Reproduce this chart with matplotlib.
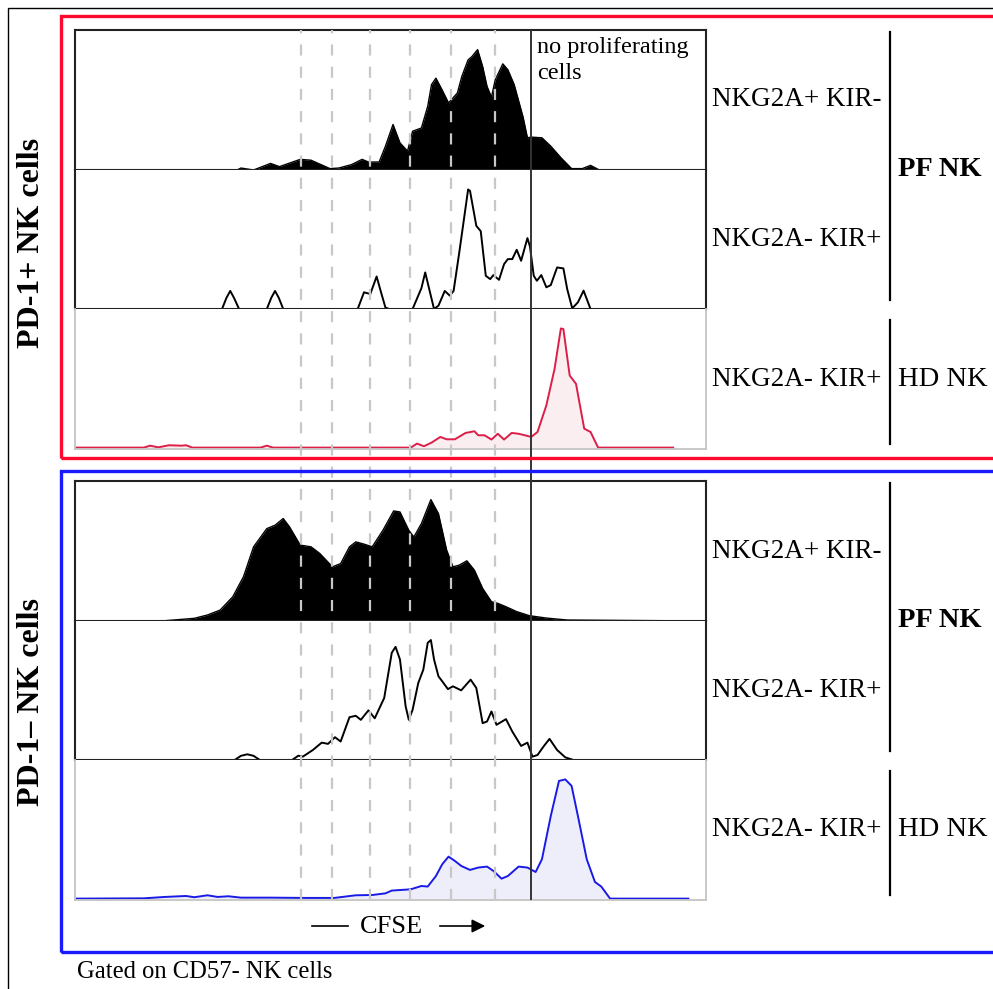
import numpy as np
import matplotlib.pyplot as plt
from matplotlib.lines import Line2D
from matplotlib.patches import Rectangle, FancyArrowPatch

plt.rcParams["font.family"] = ["Liberation Serif", "DejaVu Serif"]

# CFSE channel (0-1000 across the plot window) and normalized count (% of panel height)
# PD-1+ NK cells
pos_a_cfse = [0, 257, 263, 283, 310, 324, 357, 374, 404, 418, 438, 455, 465, 482, 492, 504, 515, 527, 535, 549,
              559, 565, 572, 582, 592, 606, 613, 623, 629, 638, 646, 653, 660, 666, 678, 686, 696, 710, 717, 723,
              740, 754, 770, 787, 804, 817, 831, 1000]
pos_a_count = [0, 0, 1.4, 0, 4.7, 2.4, 7.6, 7.0, 1.0, 1.4, 3.8, 7.6, 5.7, 5.7, 17, 32.5, 19.4, 13.5, 27.7, 30,
               45.5, 61, 65.6, 57, 47.9, 55, 66.8, 78.7, 81, 86, 74, 59.7, 52, 64.5, 75.8, 71.6, 61, 38, 23, 23.5,
               23, 17, 8.8, 1, 1, 3.3, 0, 0]

pos_b_cfse = [0, 233, 240, 246, 252, 260, 304, 311, 317, 323, 330, 448, 458, 468, 478, 485, 492, 498, 535, 549,
              555, 561, 569, 576, 586, 594, 600, 609, 623, 626, 636, 643, 651, 658, 663, 672, 680, 686, 693, 700,
              707, 717, 721, 727, 732, 739, 747, 754, 764, 774, 780, 788, 797, 806, 817, 1000]
pos_b_count = [0, 0, 8, 13, 8, 0, 0, 8, 13, 8, 0, 0, 12, 10.8, 23.4, 12, 1, 0, 0, 15,
               26.3, 15, 0, 2.4, 13, 9.6, 13, 40.7, 86, 85, 59.8, 56, 23.9, 21.5, 24.4, 21, 32.3, 35.9, 35.9, 42.6,
               34.7, 51, 45, 23.9, 20.3, 24.4, 15.6, 17.2, 29.9, 29.2, 14.4, 0.5, 4.8, 13.2, 0, 0]

pos_hd_cfse = [0, 109, 119, 132, 149, 169, 176, 186, 294, 304, 314, 532, 542, 553, 565, 579, 589, 602, 619, 633,
               639, 649, 660, 670, 680, 692, 703, 713, 723, 733, 747, 760, 770, 774, 784, 794, 807, 817, 829, 948]
pos_hd_count = [0, 0, 1.4, 0.2, 1.7, 1.4, 1.7, 0, 0, 1.4, 0, 0, 2.9, 1, 3.6, 7.7, 6, 6, 10.6, 11.8,
                8.9, 8.9, 5.8, 10, 5.8, 10.6, 10, 8.9, 7.7, 11.3, 30.5, 56.8, 86, 85.5, 52, 46, 13.7, 11.3, 0, 0]

# PD-1- NK cells
neg_a_cfse = [0, 142, 189, 210, 230, 250, 267, 283, 304, 317, 330, 340, 357, 374, 388, 408, 421, 435, 445, 458,
              471, 488, 505, 515, 529, 537, 549, 564, 576, 589, 599, 609, 621, 633, 646, 660, 670, 683, 700, 720,
              747, 780, 1000]
neg_a_count = [0, 0.2, 1.9, 4.3, 7.8, 17.3, 31.6, 53, 66, 68.4, 73.2, 67.2, 54.2, 53, 48.2, 38.7, 41, 53, 56.5, 54.9,
               53, 64.8, 78.6, 77.9, 64.8, 60, 69.6, 86.7, 76.7, 50.6, 38.7, 39.9, 43, 36.3, 23.3, 13.8, 12.6, 10.2,
               6.7, 3.8, 2.1, 0.7, 0]

neg_b_cfse = [0, 253, 263, 273, 283, 293, 344, 354, 361, 377, 391, 401, 412, 421, 435, 445, 453, 465, 475, 490,
              502, 508, 515, 524, 529, 535, 544, 552, 559, 564, 569, 576, 582, 591, 599, 612, 627, 636, 646, 653,
              660, 668, 683, 693, 707, 717, 725, 733, 743, 752, 764, 777, 790, 1000]
neg_b_count = [0, 0, 3, 4.1, 3, 0, 0, 3.1, 2.4, 7.2, 12.5, 11.6, 16.4, 13.3, 30.8, 31.8, 28.9, 35.7, 30, 44.6,
               77.1, 81.4, 72.3, 38.6, 28.9, 36.1, 55.4, 65, 84.3, 86.3, 72.3, 60.2, 56.6, 51, 53, 50.1, 57.8, 51.8,
               26.5, 27.7, 34.9, 25.3, 29.4, 20.5, 10.1, 12.5, 2.4, 3.6, 10, 15.2, 7.2, 1.9, 0, 0]

neg_hd_cfse = [0, 109, 142, 176, 189, 210, 226, 243, 263, 310, 364, 411, 445, 471, 492, 502, 532, 549, 559, 572,
               582, 592, 602, 612, 626, 639, 653, 663, 676, 686, 703, 717, 730, 740, 754, 767, 777, 787, 797, 811,
               824, 834, 848, 972]
neg_hd_count = [0, 0.2, 1.2, 1.9, 1, 2.4, 1.2, 1.7, 0.7, 0.7, 0.5, 0.5, 2.4, 2.6, 3.8, 5.8, 6.7, 9.1, 8.7, 16.3,
                24.8, 30.3, 27.2, 23.6, 20.7, 22.4, 23.1, 20, 14.4, 16.3, 23.1, 22.4, 19.2, 28.4, 59.6, 84.9, 86,
                81.3, 59.6, 28.4, 12, 8.7, 0, 0]

division_cfse = [358, 408, 468, 531, 596, 665]
gate_cfse = 722

row_labels = ["NKG2A+ KIR-", "NKG2A- KIR+", "NKG2A- KIR+"]
group_labels = ["PD-1+ NK cells", "PD-1\u2013 NK cells"]


W, H = 993, 989
fig = plt.figure(figsize=(W / 100, H / 100), dpi=100)


def px_box(x0, y0, x1, y1):
    return [x0 / W, 1 - y1 / H, (x1 - x0) / W, (y1 - y0) / H]


def fx(x):
    return x / W


def fy(y):
    return 1 - y / H


# frames
fig.add_artist(Rectangle((fx(8), fy(1010)), fx(1010) - fx(8), fy(8) - fy(1010),
                         transform=fig.transFigure, fill=False, ec="black", lw=1.0))
fig.add_artist(Rectangle((fx(61), fy(458)), fx(1010) - fx(61), fy(16) - fy(458),
                         transform=fig.transFigure, fill=False, ec="#ff0a2e", lw=2.4))
fig.add_artist(Rectangle((fx(61), fy(952)), fx(1010) - fx(61), fy(471) - fy(952),
                         transform=fig.transFigure, fill=False, ec="#1a1aff", lw=2.4))

groups = [
    {"top": 30, "bottoms": [170, 309, 449],
     "series": [(pos_a_cfse, pos_a_count), (pos_b_cfse, pos_b_count), (pos_hd_cfse, pos_hd_count)],
     "hd_line": "#dc1e48", "hd_fill": "#fbeef1"},
    {"top": 481, "bottoms": [621, 760, 900],
     "series": [(neg_a_cfse, neg_a_count), (neg_b_cfse, neg_b_count), (neg_hd_cfse, neg_hd_count)],
     "hd_line": "#1a1ae6", "hd_fill": "#eeeefb"},
]

for g, group in enumerate(groups):
    tops = [group["top"]] + group["bottoms"][:2]
    for i in range(3):
        ax = fig.add_axes(px_box(75, tops[i], 706, group["bottoms"][i]))
        x, y = group["series"][i]
        x = np.array(x)
        y = np.array(y)
        if i == 0:
            ax.fill_between(x, 0, y, color="black", lw=0)
            ax.plot(x, y, color="black", lw=1.0, solid_joinstyle="round")
        elif i == 1:
            ax.plot(x, y, color="black", lw=1.4, solid_joinstyle="round")
        else:
            ax.fill_between(x, 0, y, color=group["hd_fill"], lw=0)
            ax.plot(x, y, color=group["hd_line"], lw=1.4, solid_joinstyle="round")
        ax.set_xlim(0, 1000)
        ax.set_ylim(-1 if i == 2 else 0, 100)
        ax.set_xticks([])
        ax.set_yticks([])
        for side, sp in ax.spines.items():
            if i == 2:
                sp.set_color("#c4c4c4")
                sp.set_linewidth(1.3)
            else:
                sp.set_color("#222222")
                sp.set_linewidth(1.5)
        if i > 0:
            ax.spines["top"].set_visible(False)

    # row labels and brackets
    for i in range(3):
        mid = (tops[i] + group["bottoms"][i]) / 2
        fig.text(fx(712), fy(mid), row_labels[i], ha="left", va="center", fontsize=19.5)
    fig.add_artist(Line2D([fx(890)] * 2, [fy(tops[0] + 2), fy(group["bottoms"][1] - 9)],
                          transform=fig.transFigure, color="black", lw=1.6))
    fig.add_artist(Line2D([fx(890)] * 2, [fy(group["bottoms"][1] + 11), fy(group["bottoms"][2] - 5)],
                          transform=fig.transFigure, color="black", lw=1.6))
    fig.text(fx(898), fy((tops[0] + group["bottoms"][1]) / 2), "PF NK", ha="left", va="center",
             fontsize=20.5, fontweight="bold")
    fig.text(fx(898), fy((tops[2] + group["bottoms"][2]) / 2), "HD NK", ha="left", va="center",
             fontsize=20.5)

fig.text(fx(32), fy(243), group_labels[0], rotation=90, ha="center", va="center",
         fontsize=23, fontweight="bold")
fig.text(fx(32), fy(702), group_labels[1], rotation=90, ha="center", va="center",
         fontsize=23, fontweight="bold")

# division guides and gate, drawn over all six panels
guide = fig.add_axes(px_box(75, 30, 706, 900))
guide.set_xlim(0, 1000)
guide.set_ylim(0, 1)
guide.patch.set_alpha(0)
guide.axis("off")
for d in division_cfse:
    guide.axvline(d, color="#c8c8c8", lw=1.6, dashes=(5, 5))
guide.axvline(gate_cfse, color="#333333", lw=1.4)

fig.text(fx(537), fy(37), "no proliferating\ncells", ha="left", va="top", fontsize=17.5, linespacing=1.3)

# CFSE axis hint
fig.text(fx(391), fy(927), "CFSE", ha="center", va="center", fontsize=19)
fig.add_artist(Line2D([fx(312), fx(348)], [fy(926), fy(926)], transform=fig.transFigure, color="black", lw=1.2))
fig.add_artist(FancyArrowPatch((fx(437), fy(926)), (fx(488), fy(926)), transform=fig.transFigure,
                               arrowstyle="-|>", mutation_scale=20, color="black", lw=1.2))

fig.text(fx(77), fy(972), "Gated on CD57- NK cells", ha="left", va="center", fontsize=17.7)

plt.savefig("out.png", dpi=100)
